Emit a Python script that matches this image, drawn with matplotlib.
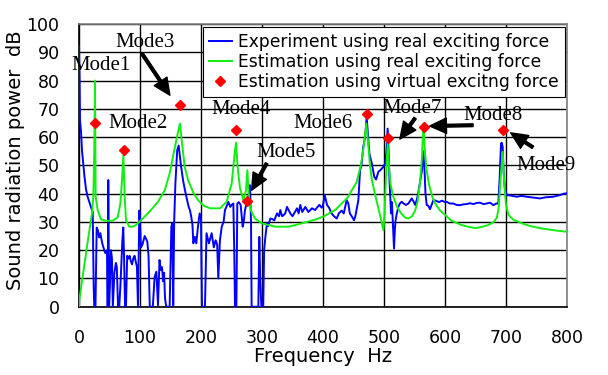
import matplotlib
matplotlib.use('Agg')
import matplotlib.pyplot as plt
import numpy as np

# Experiment using real exciting force
exp_f = [0, 1, 1.6, 3.3, 5, 7, 9, 11.5, 14, 17, 20, 22.5, 24, 25, 27, 29, 31, 33, 35, 38,
         40, 43, 46, 47, 48, 49.5, 52.5, 54, 55.5, 58, 60.5, 62, 64, 66, 68, 71, 72.6, 74, 75.5, 77,
         79, 81, 83, 85, 87, 89, 91, 93, 95, 96.7, 98.9, 100, 101.5, 104, 107.7, 110, 112, 114, 116, 121,
         124, 126.8, 129.5, 132, 134, 136, 138, 139.5, 141, 143, 148.6, 151.4, 153, 154.5, 156, 158, 161, 163.4, 165, 166.7,
         170.5, 173, 176, 179.8, 182, 184, 186, 187.4, 190, 192.3, 195, 197.8, 200, 201.6, 206.5, 209, 213, 217.5, 221, 224,
         226.5, 228.4, 231, 234, 237, 239.3, 242, 244.8, 248, 250, 253, 254.5, 255.7, 258, 259.5, 262, 265, 268.3, 270, 272,
         275, 277.6, 280.3, 282, 283, 294, 295.6, 297, 299, 302, 303.5, 305.5, 308.2, 310, 313.7, 317, 320, 324.6, 328, 330,
         333, 335.5, 338, 341, 344, 346.4, 350, 354, 357.4, 360, 362.8, 366, 371, 376, 382, 387, 390, 394, 398, 400,
         402.8, 406.6, 410, 414, 418, 422.5, 426, 430.6, 434, 438.8, 441.5, 444, 447, 450.8, 453, 455, 458, 460.7, 463, 466,
         469, 471.6, 474, 476, 480, 484, 487, 490.7, 495, 499, 502, 504, 506, 507.5, 509, 511.5, 513, 514.5, 516.4, 518,
         519, 521, 523.5, 526, 529, 532, 536, 540, 545.4, 549, 551, 554, 556, 559, 562, 564.5, 566.5, 568, 570, 572.6,
         575.4, 578, 581, 585, 590, 595, 600, 602.7, 608, 613.6, 619, 624.6, 630, 635.5, 641, 646.4, 652, 657.4, 663, 668.3,
         674, 679.2, 684, 687.4, 689.5, 691.8, 693, 694.6, 696, 698, 701, 708, 717.5, 725, 733.9, 745, 755.7, 765, 777.6, 788.5,
         795, 800]
exp_db = [92, 80, 66, 62, 55, 50.5, 46, 41.5, 39, 37, 35, 33.5, 8, 0, 0, 28, 27, 24.5, 26, 22.5,
          21, 19, 20, 0, 44.8, 0, 20, 17, 0, 12, 15.5, 14, 0, 0, 8, 23, 28, 16, 0, 0,
          18, 17, 18, 16, 15, 17, 18, 16, 14, 0, 34, 30, 21, 22, 25, 24, 23, 18, 0, 0,
          10.6, 12.4, 0.5, 16.5, 13, 14, 9, 12, 3, 0, 0, 28.3, 29.5, 0.5, 30, 43.6, 55.4, 57, 54, 50.7,
          44.8, 42, 38.9, 35.3, 34, 31.8, 29, 22.4, 24.7, 22.4, 28.3, 33, 31, 0, 0, 26, 22.4, 26, 21, 23.5,
          22, 10, 23.5, 28.3, 30, 34.2, 35.5, 37.1, 35.3, 36, 36.5, 20, 0, 0, 36.5, 37, 36, 28.3, 30, 34,
          37, 38.9, 43, 30, 0, 0, 24.7, 10, 0, 0, 20, 24.7, 29.5, 28.5, 31.2, 31, 30.5, 33, 32, 34.2,
          32, 32.4, 33, 35.3, 34, 33, 32, 33.5, 34.8, 33, 36, 33.5, 35.3, 33.5, 34.8, 34.2, 35, 36, 35, 36,
          39.5, 36, 35, 33, 32, 31.2, 33, 34, 33, 37.7, 36.5, 33, 32, 30.6, 32, 34.2, 37.7, 48.3, 50, 56.5,
          60, 67, 60, 54.2, 50.7, 46, 45, 47.7, 48.5, 49.5, 50.7, 55, 63, 55, 45, 33, 37, 30, 20.6, 28,
          30.6, 33, 35.3, 36.5, 37.1, 36.5, 36, 36.5, 38.3, 37, 36, 38, 40, 44, 48, 55, 48, 40, 36, 35.7,
          34.5, 36, 37.7, 37.5, 37, 37.5, 37, 37.1, 36.5, 36.5, 36, 35.9, 36.2, 36.3, 36.6, 36.3, 36.7, 36.8, 36.3, 36.5,
          36.8, 35.9, 36.5, 36.5, 45, 57.7, 58, 56.5, 48, 42, 39.5, 39.3, 38.9, 39.2, 38.9, 38.6, 38.3, 38.7, 38.9, 39.5,
          40, 40.1]

# Estimation using real exciting force
est_f = [0, 0.5, 6, 11.5, 17, 21.3, 23.5, 25, 26.2, 27.3, 30.6, 36, 44, 55, 63.4, 67.8, 70.5, 72.7, 74.9, 77,
         82.5, 88, 93.4, 101.6, 113, 129.5, 140.5, 148.6, 154, 159.5, 163, 165.6, 167.8, 173.2, 178.7, 186.9, 195, 203.8, 214.8, 231,
         242, 250.3, 254.6, 257.4, 260, 264, 269.4, 273.8, 276, 278, 281.4, 288.5, 299.5, 321.9, 343.7, 365.6, 387, 400, 420, 440,
         455, 462, 467, 471, 474, 477, 480, 485, 490, 495, 499, 501, 503, 506, 508, 511, 515, 521, 528, 535,
         540, 546, 551, 555, 559, 562, 564.5, 567, 570, 574, 579, 584, 592, 600, 610, 627, 640, 650, 660, 671,
         680, 685, 688, 691, 694.6, 697, 700, 704, 712, 726, 740, 758, 780, 800]
est_db = [0, 2.4, 10.6, 18.9, 27, 33, 39, 55, 80, 39, 34.2, 30.9, 30.4, 30.4, 31.6, 36.5, 44.8, 53.6, 39, 30.6,
          28.3, 28.3, 28.9, 30.6, 33, 37.1, 41.2, 47.1, 53, 58.9, 62.4, 64.8, 60, 49.5, 44.8, 40.6, 37.7, 35.8, 34.8, 34.8,
          37.1, 43.6, 53, 58, 49.5, 41.8, 37.7, 41.2, 48.3, 40, 34.2, 31.2, 29.5, 28.3, 28.3, 29.5, 30.8, 31.8, 34.2, 38.5,
          44, 50, 57, 64.8, 58, 50, 45, 40, 35.5, 31, 27, 33, 45, 57.7, 50, 43, 39, 35.5, 33, 31.5,
          31.2, 32, 34, 37, 44, 52, 64.8, 55, 48, 43, 39, 36.5, 34, 32.5, 30.5, 28.9, 28.2, 27.8, 28.2, 28.9,
          30, 31.5, 35, 45, 54.8, 44, 36, 32.5, 30.8, 29.5, 28.5, 27.7, 27, 26.5]

# Estimation using virtual exciting force (one per mode)
mode_f = [27, 73, 165, 257, 276, 472, 507, 565, 695]
mode_db = [65, 55.5, 71.5, 62.5, 37.5, 68, 59.5, 63.5, 62.5]

mode_names = ['Mode1', 'Mode2', 'Mode3', 'Mode4', 'Mode5', 'Mode6', 'Mode7', 'Mode8', 'Mode9']
label_xy = [(36, 85.4), (96.7, 64.9), (108, 93.5), (265.6, 69.9), (339, 54.7),
            (400, 64.9), (546, 70.2), (678.7, 67.8), (765.6, 50.1)]
# arrows: (tail, tip) for modes that have one
arrows = {'Mode3': ((103, 89.6), (149, 74.8)),
          'Mode5': ((307.7, 50.7), (283, 41.2)),
          'Mode7': ((551, 66.7), (526, 59.3)),
          'Mode8': ((646, 64.2), (575, 63.9)),
          'Mode9': ((744, 56.4), (707.7, 61.5))}

plt.rcParams['font.family'] = 'DejaVu Sans'
fig = plt.figure(figsize=(6.08, 3.75), dpi=100)
ax = fig.add_axes([79 / 608, 1 - 306.7 / 375, 488 / 608, 282.7 / 375])

ax.plot(exp_f, exp_db, color='#0000ff', lw=1.4, label='Experiment using real exciting force', zorder=3)
ax.plot(est_f, est_db, color='#11ee11', lw=1.4, label='Estimation using real exciting force', zorder=4)
ax.plot(mode_f, mode_db, 'D', color='#ff0000', ms=5, ls='none',
        label='Estimation using virtual excitng force', zorder=5)

for name, (tx, ty) in zip(mode_names, label_xy):
    ax.text(tx, ty, name, family='Liberation Serif', fontsize=15, ha='center', va='center', zorder=6)
for name, (tail, tip) in arrows.items():
    ax.annotate('', xy=tip, xytext=tail,
                arrowprops=dict(facecolor='black', edgecolor='black', width=2, headwidth=11,
                                headlength=12, shrink=0), zorder=6)

ax.set_xlim(0, 800)
ax.set_ylim(0, 100)
ax.set_xticks(np.arange(0, 801, 100))
ax.set_yticks(np.arange(0, 101, 10))
ax.grid(True, color='black', lw=1.0)
ax.tick_params(length=0, labelsize=12.5)
ax.tick_params(axis='y', pad=14)
ax.tick_params(axis='x', pad=16)
for s in ['left', 'bottom']:
    ax.spines[s].set_color('black')
    ax.spines[s].set_linewidth(1.2)
for s in ['top', 'right']:
    ax.spines[s].set_color('#808080')
    ax.spines[s].set_linewidth(1.2)

ax.set_xlabel('Frequency  Hz', fontsize=14, labelpad=0)
ax.set_ylabel('Sound radiation power  dB', fontsize=14, labelpad=1, y=0.52)

leg = ax.legend(loc='upper right', bbox_to_anchor=(565 / 608, 1 - 27 / 375),
                bbox_transform=fig.transFigure, borderaxespad=0, fancybox=False,
                edgecolor='black', framealpha=1, fontsize=12.3, handlelength=1.3,
                handletextpad=0.4, labelspacing=0.12, borderpad=0.35)
leg.get_frame().set_linewidth(0.8)
leg.set_zorder(10)

fig.savefig('out.png', dpi=100)
